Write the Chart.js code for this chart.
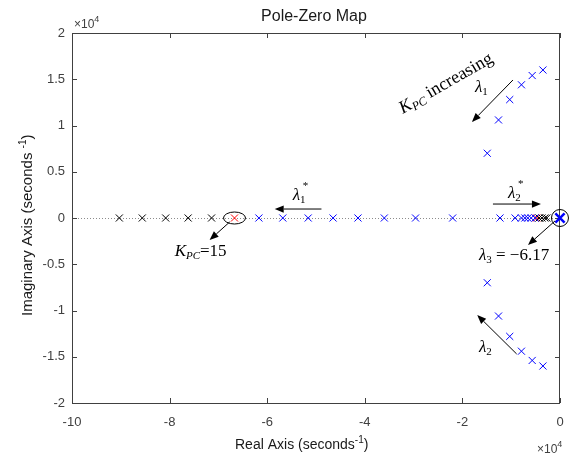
<!DOCTYPE html>
<html>
<head>
<meta charset="utf-8">
<title>Pole-Zero Map</title>
<script src="https://cdn.jsdelivr.net/npm/chart.js@4/dist/chart.umd.min.js"></script>
<style>
  body { margin: 0; background: #fff; }
  #wrap { width: 572px; height: 457px; }
</style>
</head>
<body>
<div id="wrap"><canvas id="pzmap" width="572" height="457"></canvas></div>
<script>
// values are in units of x10^4 seconds^-1
const xTicks = [-10, -8, -6, -4, -2, 0];
const yTicks = [-2, -1.5, -1, -0.5, 0, 0.5, 1, 1.5, 2];

// poles before K_PC = 15 (black)
const blackReal = [-9.03, -8.56, -8.08, -7.62, -7.14, -0.43, -0.37, -0.31, -0.27];
const blackImag = [0, 0, 0, 0, 0, 0, 0, 0, 0];

// K_PC = 15 (red)
const redReal = [-6.67, -0.48];
const redImag = [0, 0];

// poles after K_PC = 15 (blue), real axis then lambda1 / lambda2 branches
const blueReal = [-6.17, -5.68, -5.16, -4.65, -4.14, -3.60, -2.96, -2.20, -1.23, -0.92, -0.79, -0.72, -0.66, -0.59, -0.51,
                  -1.49, -1.26, -1.03, -0.79, -0.57, -0.35,
                  -1.49, -1.26, -1.03, -0.79, -0.57, -0.35];
const blueImag = [0, 0, 0, 0, 0, 0, 0, 0, 0, 0, 0, 0, 0, 0, 0,
                  0.70, 1.06, 1.28, 1.44, 1.54, 1.60,
                  -0.70, -1.06, -1.28, -1.44, -1.54, -1.60];

// lambda3 = -6.17 s^-1
const lambda3Real = [-0.000617];
const lambda3Imag = [0];

function _points(re, im){
    return re.map((v, i) => ({ x: v, y: im[i] }));
}

const SERIF = '"Liberation Serif", "Times New Roman", serif';
const SANS = '"Liberation Sans", Arial, sans-serif';

function _drawRich(ctx, x, y, parts){
    let cx = x;
    for(let p of parts){
        ctx.font = p.font;
        ctx.fillText(p.t, cx, y + (p.dy || 0));
        cx += ctx.measureText(p.t).width + (p.gap || 0);
    }
}

function _arrow(ctx, x1, y1, x2, y2){
    let a = Math.atan2(y2 - y1, x2 - x1);
    let len = 9, hw = 3.6;
    ctx.beginPath();
    ctx.moveTo(x1, y1);
    ctx.lineTo(x2 - Math.cos(a) * len, y2 - Math.sin(a) * len);
    ctx.stroke();
    ctx.beginPath();
    ctx.moveTo(x2, y2);
    ctx.lineTo(x2 - Math.cos(a) * len - Math.sin(a) * hw, y2 - Math.sin(a) * len + Math.cos(a) * hw);
    ctx.lineTo(x2 - Math.cos(a) * len + Math.sin(a) * hw, y2 - Math.sin(a) * len - Math.cos(a) * hw);
    ctx.closePath();
    ctx.fill();
}

// box, inward ticks and dotted zero lines, MATLAB style
const framePlugin = {
    id: 'frame',
    beforeDatasetsDraw(chart){
        const ctx = chart.ctx, a = chart.chartArea;
        const xs = chart.scales.x, ys = chart.scales.y;
        ctx.save();
        ctx.strokeStyle = '#8c8c8c';
        ctx.lineWidth = 1;
        ctx.setLineDash([1, 2]);
        let y0 = Math.round(ys.getPixelForValue(0)) + 0.5;
        ctx.beginPath();
        ctx.moveTo(a.left, y0);
        ctx.lineTo(a.right, y0);
        ctx.stroke();
        ctx.setLineDash([]);

        ctx.strokeStyle = '#404040';
        ctx.beginPath();
        ctx.rect(a.left + 0.5, a.top + 0.5, a.right - a.left - 1, a.bottom - a.top);
        ctx.stroke();
        ctx.beginPath();
        for(let v of xTicks){
            let px = Math.round(xs.getPixelForValue(v)) + 0.5;
            ctx.moveTo(px, a.bottom); ctx.lineTo(px, a.bottom - 5);
            ctx.moveTo(px, a.top); ctx.lineTo(px, a.top + 5);
        }
        for(let v of yTicks){
            let py = Math.round(ys.getPixelForValue(v)) + 0.5;
            ctx.moveTo(a.left, py); ctx.lineTo(a.left + 5, py);
            ctx.moveTo(a.right, py); ctx.lineTo(a.right - 5, py);
        }
        ctx.stroke();
        ctx.restore();
    },
    afterDraw(chart){
        const ctx = chart.ctx;
        ctx.save();
        ctx.fillStyle = '#1a1a1a';
        ctx.textBaseline = 'alphabetic';
        ctx.textAlign = 'center';
        ctx.font = '16px ' + SANS;
        ctx.fillText('Pole-Zero Map', 314, 21);

        ctx.textAlign = 'left';
        ctx.fillStyle = '#404040';
        _drawRich(ctx, 74, 28, [{ t: '\u00d710', font: '12px ' + SANS }, { t: '4', font: '9px ' + SANS, dy: -6 }]);
        _drawRich(ctx, 537, 453, [{ t: '\u00d710', font: '12px ' + SANS }, { t: '4', font: '9px ' + SANS, dy: -6 }]);

        ctx.fillStyle = '#1a1a1a';
        _drawRich(ctx, 235, 449, [
            { t: 'Real Axis (seconds', font: '14px ' + SANS },
            { t: '-1', font: '10px ' + SANS, dy: -6 },
            { t: ')', font: '14px ' + SANS }
        ]);

        ctx.translate(32, 316);
        ctx.rotate(-Math.PI / 2);
        _drawRich(ctx, 0, 0, [
            { t: 'Imaginary Axis (seconds ', font: '15px ' + SANS },
            { t: '-1', font: '10px ' + SANS, dy: -6 },
            { t: ')', font: '15px ' + SANS }
        ]);
        ctx.restore();
    }
};

// arrows, circles and labels placed in data coordinates
const notesPlugin = {
    id: 'notes',
    afterDatasetsDraw(chart){
        const ctx = chart.ctx;
        const X = v => chart.scales.x.getPixelForValue(v);
        const Y = v => chart.scales.y.getPixelForValue(v);
        const it = '17px ' + SERIF, itI = 'italic 17px ' + SERIF;
        const sub = '11px ' + SERIF, subI = 'italic 11px ' + SERIF;
        ctx.save();
        ctx.strokeStyle = '#000';
        ctx.fillStyle = '#000';
        ctx.lineWidth = 1;
        ctx.textBaseline = 'alphabetic';
        ctx.textAlign = 'left';

        // K_PC increasing
        ctx.save();
        ctx.translate(X(-3.22), Y(1.124));
        ctx.rotate(-30 * Math.PI / 180);
        _drawRich(ctx, 0, 0, [
            { t: 'K', font: 'italic 18px ' + SERIF },
            { t: 'PC', font: 'italic 12px ' + SERIF, dy: 3, gap: 4 },
            { t: 'increasing', font: '18px ' + SERIF }
        ]);
        ctx.restore();

        // lambda1
        _drawRich(ctx, X(-1.744), Y(1.362), [{ t: '\u03bb', font: itI }, { t: '1', font: sub, dy: 3 }]);
        _arrow(ctx, X(-0.964), Y(1.492), X(-1.805), Y(1.038));

        // lambda2*
        _drawRich(ctx, X(-1.067), Y(0.216), [{ t: '\u03bb', font: itI }, { t: '2', font: sub, dy: 3 }]);
        _drawRich(ctx, X(-1.067) + 10, Y(0.216) - 11, [{ t: '*', font: sub }]);
        _arrow(ctx, X(-1.374), Y(0.151), X(-0.39), Y(0.151));

        // lambda3 circle
        ctx.beginPath();
        ctx.arc(X(lambda3Real[0]), Y(0), 8.5, 0, Math.PI * 2);
        ctx.stroke();
        _arrow(ctx, X(-0.103), Y(-0.032), X(-0.656), Y(-0.292));
        _drawRich(ctx, X(-1.662), Y(-0.454), [
            { t: '\u03bb', font: itI },
            { t: '3', font: sub, dy: 3 },
            { t: ' = \u22126.17', font: it }
        ]);

        // lambda2
        _arrow(ctx, X(-0.888), Y(-1.470), X(-1.696), Y(-1.049));
        _drawRich(ctx, X(-1.662), Y(-1.449), [{ t: '\u03bb', font: itI }, { t: '2', font: sub, dy: 3 }]);

        // lambda1*
        _drawRich(ctx, X(-5.477), Y(0.195), [{ t: '\u03bb', font: itI }, { t: '1', font: sub, dy: 3 }]);
        _drawRich(ctx, X(-5.477) + 10, Y(0.195) - 11, [{ t: '*', font: sub }]);
        _arrow(ctx, X(-4.888), Y(0.097), X(-5.846), Y(0.097));

        // K_PC = 15
        ctx.beginPath();
        ctx.ellipse(X(redReal[0]), Y(0), 11, 6, 0, 0, Math.PI * 2);
        ctx.stroke();
        _arrow(ctx, X(-6.769), Y(-0.043), X(-7.18), Y(-0.238));
        _drawRich(ctx, X(-7.897), Y(-0.411), [
            { t: 'K', font: itI },
            { t: 'PC', font: subI, dy: 3 },
            { t: '=15', font: it }
        ]);
        ctx.restore();
    }
};

function _crossSet(label, re, im, color, r, w){
    return {
        label: label,
        data: _points(re, im),
        showLine: false,
        clip: false,
        pointStyle: 'crossRot',
        pointRadius: r,
        pointHoverRadius: r,
        borderColor: color,
        backgroundColor: color,
        borderWidth: w,
        pointBorderWidth: w
    };
}

function _noPad(s){
    s.paddingLeft = 0; s.paddingRight = 0;
    s.paddingTop = 0; s.paddingBottom = 0;
}

function _drawChart(){
    new Chart(document.getElementById('pzmap').getContext('2d'), {
        type: 'scatter',
        data: {
            datasets: [
                _crossSet('after', blueReal, blueImag, '#0000ff', 5, 1),
                _crossSet('before', blackReal, blackImag, '#000000', 5, 1),
                _crossSet('K_PC=15', redReal, redImag, '#ff0000', 5, 1),
                _crossSet('lambda3', lambda3Real, lambda3Imag, '#0000ff', 6.5, 2.5)
            ]
        },
        options: {
            responsive: false,
            animation: false,
            layout: { padding: { left: 0, right: 12, top: 33, bottom: 0 } },
            plugins: { legend: { display: false }, tooltip: { enabled: false }, title: { display: false } },
            scales: {
                x: {
                    type: 'linear', min: -10, max: 0,
                    afterFit: s => { s.height = 54; _noPad(s); },
                    afterBuildTicks: s => { s.ticks = xTicks.map(v => ({ value: v })); },
                    grid: { display: false, drawTicks: false },
                    border: { display: false },
                    ticks: { padding: 12, color: '#404040', font: { family: SANS, size: 13 }, maxRotation: 0,
                             callback: v => String(v) }
                },
                y: {
                    type: 'linear', min: -2, max: 2,
                    afterFit: s => { s.width = 72; _noPad(s); },
                    afterBuildTicks: s => { s.ticks = yTicks.map(v => ({ value: v })); },
                    grid: { display: false, drawTicks: false },
                    border: { display: false },
                    ticks: { padding: 7, color: '#404040', font: { family: SANS, size: 13 },
                             callback: v => String(v) }
                }
            }
        },
        plugins: [framePlugin, notesPlugin]
    });
}

window.onload = function(){
    _drawChart();
};
</script>
</body>
</html>
